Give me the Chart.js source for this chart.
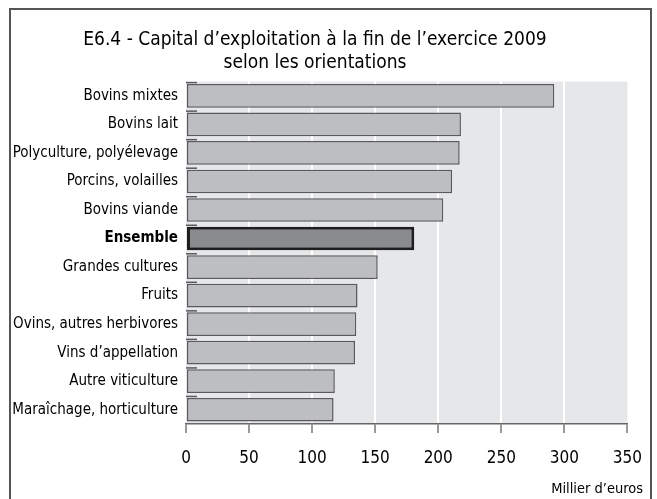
<!DOCTYPE html>
<html>
<head>
<meta charset="utf-8">
<script src="https://cdn.jsdelivr.net/npm/chart.js@4"></script>
<style>
  html, body { margin: 0; padding: 0; background: #fff; }
  #wrap { width: 657px; height: 499px; }
</style>
</head>
<body>
<div id="wrap"><canvas id="myChart" width="657" height="499"></canvas></div>
<script>
const labels = [
  'Bovins mixtes',
  'Bovins lait',
  'Polyculture, polyélevage',
  'Porcins, volailles',
  'Bovins viande',
  'Ensemble',
  'Grandes cultures',
  'Fruits',
  'Ovins, autres herbivores',
  'Vins d’appellation',
  'Autre viticulture',
  'Maraîchage, horticulture',
]
const capital = [292, 218, 217, 211, 204, 181, 152, 136, 135, 134, 118, 117]
const xTicks = [0, 50, 100, 150, 200, 250, 300, 350]
const highlight = 'Ensemble'

const FONT = "'Liberation Sans Narrow', 'DejaVu Sans Condensed', 'Arial Narrow', sans-serif"

window.onload = function () {
  const ctx = document.getElementById('myChart')

  const myChart = new Chart(ctx, {
    type: 'bar',
    data: {
      labels: labels,
      datasets: [
        {
          label: 'Capital',
          data: capital,
          backgroundColor: labels.map(l => l === highlight ? '#8a8b8f' : '#bdbec2'),
          borderColor: labels.map(l => l === highlight ? '#1e1e1e' : '#5a5a5c'),
          borderWidth: labels.map(l => l === highlight ? 3 : 1.5),
          borderSkipped: false,
          barPercentage: 0.83,
          categoryPercentage: 1,
        },
      ],
    },
    options: {
      indexAxis: 'y',
      responsive: false,
      animation: false,
      layout: { padding: { left: 0, right: 27, top: 0, bottom: 0 } },
      plugins: {
        legend: { display: false },
        tooltip: { enabled: false },
        title: {
          display: true,
          text: ['E6.4 - Capital d’exploitation à la fin de l’exercice 2009', 'selon les orientations'],
          color: '#000',
          font: { family: FONT, size: 19, weight: 'normal', lineHeight: 1.2 },
          padding: { top: 29, bottom: 7 },
        },
      },
      scales: {
        x: {
          min: 0,
          max: 350,
          afterBuildTicks: function (scale) {
            scale.ticks = xTicks.map(v => ({ value: v }))
          },
          afterFit: function (scale) {
            scale.height = 75
          },
          grid: {
            color: c => (c.tick && (c.tick.value === 0 || c.tick.value === 350)) ? 'rgba(0,0,0,0)' : '#ffffff',
            lineWidth: 2,
            drawTicks: true,
            tickLength: 9,
            tickColor: '#555',
            tickWidth: 1.2,
          },
          border: { display: true, color: '#666', width: 1.5 },
          ticks: {
            color: '#000',
            padding: 15,
            font: { family: FONT, size: 17 },
            maxRotation: 0,
          },
        },
        y: {
          afterFit: function (scale) {
            scale.width = 186
          },
          grid: { display: false, drawTicks: false },
          border: { display: false },
          ticks: {
            color: '#000',
            padding: 8,
            font: function (c) {
              const bold = c.tick && labels[c.index] === highlight
              return { family: FONT, size: 15, weight: bold ? 'bold' : 'normal' }
            },
          },
        },
      },
    },
    plugins: [
      {
        id: 'plotBg',
        beforeDraw: function (chart) {
          const a = chart.chartArea
          const c = chart.ctx
          c.save()
          c.fillStyle = '#e6e7e9'
          c.fillRect(a.left, a.top, a.right - a.left, a.bottom - a.top)
          c.restore()
        },
      },
      {
        // short marks at category boundaries + unit label + frame
        id: 'extras',
        afterDraw: function (chart) {
          const c = chart.ctx
          const a = chart.chartArea
          const ys = chart.scales.y
          const step = (ys.getPixelForTick(1) - ys.getPixelForTick(0))
          c.save()
          c.strokeStyle = '#5a5a5c'
          c.lineWidth = 1.5
          for (let i = 0; i < labels.length; i++) {
            const y = ys.getPixelForTick(i) - step / 2 + 1
            c.beginPath()
            c.moveTo(a.left, y)
            c.lineTo(a.left + 11, y)
            c.stroke()
          }
          c.fillStyle = '#000'
          c.font = '14.5px ' + FONT
          c.textAlign = 'right'
          c.textBaseline = 'middle'
          c.fillText('Millier d’euros', 643, 489)

          c.strokeStyle = '#555'
          c.lineWidth = 2
          c.beginPath()
          c.moveTo(10, 510)
          c.lineTo(10, 9)
          c.lineTo(651, 9)
          c.lineTo(651, 510)
          c.stroke()
          c.restore()
        },
      },
    ],
  })
}
</script>
</body>
</html>
